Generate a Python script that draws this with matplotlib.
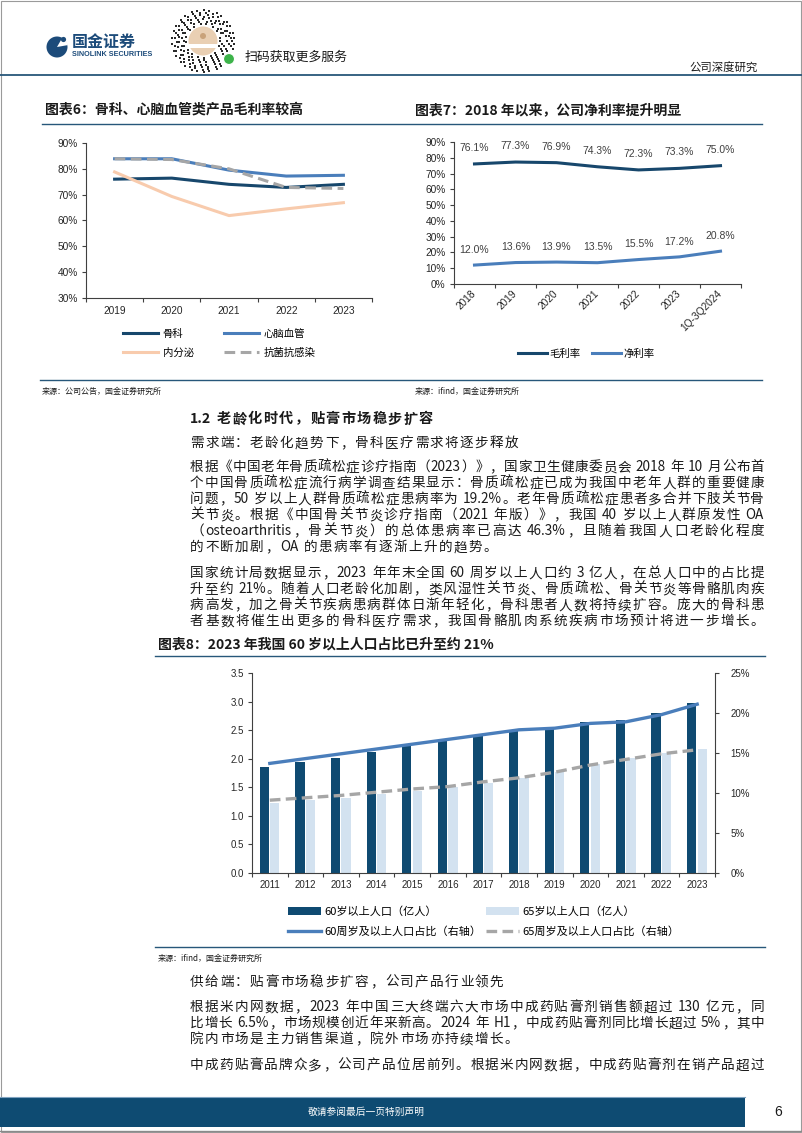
import numpy as np
import matplotlib
matplotlib.use("Agg")
import matplotlib.pyplot as plt
from matplotlib import font_manager
from matplotlib.font_manager import FontProperties
from matplotlib.patches import Rectangle, Circle, Wedge

# ---------------- data ----------------
# 图表6 毛利率 (%)
years6 = ['2019', '2020', '2021', '2022', '2023']
gm_ortho = [76.0, 76.4, 74.0, 72.8, 74.0]      # 骨科
gm_cardio = [83.9, 83.9, 79.5, 77.2, 77.5]     # 心脑血管
gm_endo = [78.8, 69.3, 61.9, 64.5, 66.9]       # 内分泌
gm_anti = [83.9, 83.6, 80.0, 72.8, 72.4]       # 抗菌抗感染

# 图表7 毛利率 / 净利率 (%)
periods7 = ['2018', '2019', '2020', '2021', '2022', '2023', '1Q-3Q2024']
gross_margin = [76.1, 77.3, 76.9, 74.3, 72.3, 73.3, 75.0]
net_margin = [12.0, 13.6, 13.9, 13.5, 15.5, 17.2, 20.8]

# 图表8 人口 (亿人) 与占比 (%)
years8 = ['2011', '2012', '2013', '2014', '2015', '2016', '2017',
          '2018', '2019', '2020', '2021', '2022', '2023']
pop60 = [1.85, 1.94, 2.02, 2.12, 2.22, 2.31, 2.41, 2.49, 2.54, 2.64, 2.67, 2.80, 2.97]
pop65 = [1.23, 1.27, 1.32, 1.38, 1.44, 1.50, 1.58, 1.67, 1.76, 1.91, 2.01, 2.10, 2.17]
share60 = [13.7, 14.3, 14.9, 15.5, 16.1, 16.7, 17.3, 17.9, 18.1, 18.7, 18.9, 19.8, 21.1]
share65 = [9.1, 9.4, 9.7, 10.1, 10.5, 10.8, 11.4, 11.9, 12.6, 13.5, 14.2, 14.9, 15.4]

# body text
heading = '1.2 老龄化时代，贴膏市场稳步扩容'
demand_title = '需求端：老龄化趋势下，骨科医疗需求将逐步释放'
para1 = ['根据《中国老年骨质疏松症诊疗指南（2023）》，国家卫生健康委员会 2018 年 10 月公布首',
         '个中国骨质疏松症流行病学调查结果显示：骨质疏松症已成为我国中老年人群的重要健康',
         '问题，50 岁以上人群骨质疏松症患病率为 19.2%。老年骨质疏松症患者多合并下肢关节骨',
         '关节炎。根据《中国骨关节炎诊疗指南（2021 年版）》，我国 40 岁以上人群原发性 OA',
         '（osteoarthritis，骨关节炎）的总体患病率已高达 46.3%，且随着我国人口老龄化程度',
         '的不断加剧，OA 的患病率有逐渐上升的趋势。']
para2 = ['国家统计局数据显示，2023 年年末全国 60 周岁以上人口约 3 亿人，在总人口中的占比提',
         '升至约 21%。随着人口老龄化加剧，类风湿性关节炎、骨质疏松、骨关节炎等骨骼肌肉疾',
         '病高发，加之骨关节疾病患病群体日渐年轻化，骨科患者人数将持续扩容。庞大的骨科患',
         '者基数将催生出更多的骨科医疗需求，我国骨骼肌肉系统疾病市场预计将进一步增长。']
supply_title = '供给端：贴膏市场稳步扩容，公司产品行业领先'
para3 = ['根据米内网数据，2023 年中国三大终端六大市场中成药贴膏剂销售额超过 130 亿元，同',
         '比增长 6.5%，市场规模创近年来新高。2024 年 H1，中成药贴膏剂同比增长超过 5%，其中',
         '院内市场是主力销售渠道，院外市场亦持续增长。']
para4 = ['中成药贴膏品牌众多，公司产品位居前列。根据米内网数据，中成药贴膏剂在销产品超过']

# ---------------- style ----------------
CJK = 'Noto Sans CJK SC'
plt.rcParams['font.family'] = [CJK, 'DejaVu Sans']
names = {f.name for f in font_manager.fontManager.ttflist}
NUM = 'Liberation Sans'
HAS_NARROW = 'Liberation Sans Narrow' in names
NARROW = 'Liberation Sans Narrow' if HAS_NARROW else NUM

NAVY = '#0F4A71'
DARK_LINE = '#17476C'
BLUE = '#4A7EBB'
PEACH = '#F8CBAD'
GRAY = '#A6A6A6'
LIGHT = '#D3E2F0'
RULE = '#27577A'
TXT = '#1A1A1A'
AXC = '#404040'
TICK = '#262626'

W, H = 802, 1133
fig = plt.figure(figsize=(W / 100, H / 100), dpi=100)

page = fig.add_axes([0, 0, 1, 1])
page.set_xlim(0, W)
page.set_ylim(H, 0)
page.axis('off')


def add_ax(x0, y0, x1, y1):
    return fig.add_axes([x0 / W, 1 - y1 / H, (x1 - x0) / W, (y1 - y0) / H])


def fig_pt(x, y):
    return (x / W, 1 - y / H)


def style_axes(ax, ncat, labels, fp, pad, rot=0):
    ax.set_xlim(-0.5, ncat - 0.5)
    ax.set_xticks(np.arange(ncat + 1) - 0.5)
    ax.set_xticklabels([])
    ax.set_xticks(np.arange(ncat), minor=True)
    if rot:
        ax.set_xticklabels(labels, minor=True, fontproperties=fp, color=TICK,
                           rotation=rot, ha='right', va='center', rotation_mode='anchor')
    else:
        ax.set_xticklabels(labels, minor=True, fontproperties=fp, color=TICK)
    ax.tick_params(axis='x', which='major', direction='out', length=3, width=0.8, color=AXC)
    ax.tick_params(axis='x', which='minor', length=0, pad=pad)
    ax.tick_params(axis='y', direction='out', length=3, width=0.8, color=AXC, pad=3)
    for s in ['top', 'right']:
        ax.spines[s].set_visible(False)
    for s in ['left', 'bottom']:
        ax.spines[s].set_color(AXC)
        ax.spines[s].set_linewidth(0.8)
    ax.set_facecolor('none')


# ---------------- page frame & header ----------------
page.add_patch(Rectangle((0.5, 0.5), W - 1.5, H - 1.5, fill=False, ec='#9A9A9A', lw=0.8))

page.add_patch(Circle((57, 47), 10.5, fc='#1C4B7A', ec='none'))
page.add_patch(Wedge((57, 47), 11, 300, 350, fc='white', ec='none'))
page.add_patch(Circle((63.5, 39.5), 2.6, fc='#1C4B7A', ec='none'))
page.text(72, 42, '国金证券', fontsize=11.5, weight='bold', color='#1C4B7A', va='center')
page.text(72, 55, 'SINOLINK SECURITIES', fontsize=6.3 if HAS_NARROW else 5.2,
          family=NARROW, weight='bold', color='#1C4B7A', va='center')

# mini-program code (decorative)
qx, qy = 203, 41
ring_pts = []
for ri, r in enumerate(np.arange(17, 31, 2.3)):
    nseg = int(2 * np.pi * r / 2.6)
    for k in range(nseg):
        if (ri * 7 + k * 3 + (k // 4) * 5) % 5 < 2:
            a = 2 * np.pi * k / nseg
            ring_pts.append((qx + r * np.cos(a), qy + r * np.sin(a)))
ring_pts = np.array(ring_pts)
page.scatter(ring_pts[:, 0], ring_pts[:, 1], s=2.2, marker='s', c='#2A2A2A', lw=0)
page.add_patch(Circle((qx, qy), 14.5, fc='#E9CFB3', ec='none'))
page.add_patch(Rectangle((qx - 14, qy + 3), 28, 4, fc='white', ec='none'))
page.add_patch(Circle((qx, qy - 5), 3, fc='#C9A27A', ec='none'))
page.add_patch(Circle((229, 59), 5.5, fc='#3DB34A', ec='white', lw=0.8))

page.text(245, 57, '扫码获取更多服务', fontsize=9.3, color=TXT, va='center')
page.text(758, 67, '公司深度研究', fontsize=8.2, color=TXT, va='center', ha='right')
page.plot([0, W], [75, 75], color=RULE, lw=1.3)

# ---------------- chart titles ----------------
title_kw = dict(fontsize=10, weight='bold', style='italic', color=TXT, va='center')
page.text(45, 110, '图表6：骨科、心脑血管类产品毛利率较高', **title_kw)
page.text(415, 110, '图表7：2018 年以来，公司净利率提升明显', **title_kw)
page.plot([42, 762], [124, 124], color=RULE, lw=1.0)

# ---------------- chart 6 ----------------
fp_tick = FontProperties(family=NUM, size=7.3)
ax6 = add_ax(86, 143, 372, 298)
x6 = np.arange(len(years6))
h1, = ax6.plot(x6, gm_ortho, color=DARK_LINE, lw=2.2, label='骨科')
h2, = ax6.plot(x6, gm_cardio, color=BLUE, lw=2.2, label='心脑血管')
h3, = ax6.plot(x6, gm_endo, color=PEACH, lw=2.2, label='内分泌')
h4, = ax6.plot(x6, gm_anti, color=GRAY, lw=2.2, dashes=(3.5, 1.8), label='抗菌抗感染')
ax6.set_ylim(30, 90)
yt6 = np.arange(30, 91, 10)
ax6.set_yticks(yt6)
ax6.set_yticklabels([f'{v}%' for v in yt6], fontproperties=fp_tick, color=TICK)
style_axes(ax6, len(years6), years6, fp_tick, pad=6)
fp_leg = FontProperties(family=CJK, size=7.5)
ax6.legend(handles=[h1, h3, h2, h4], ncol=2, loc='upper left',
           bbox_to_anchor=fig_pt(123, 329), bbox_transform=fig.transFigure,
           frameon=False, prop=fp_leg, handlelength=3.4, handletextpad=0.4,
           columnspacing=2.9, labelspacing=0.85, borderpad=0, borderaxespad=0)

# ---------------- chart 7 ----------------
ax7 = add_ax(454, 142, 741, 284)
x7 = np.arange(len(periods7))
g1, = ax7.plot(x7, gross_margin, color=DARK_LINE, lw=2.2, label='毛利率')
g2, = ax7.plot(x7, net_margin, color=BLUE, lw=2.2, label='净利率')
for xi, v in zip(x7, gross_margin):
    ax7.annotate(f'{v:.1f}%', (xi, v), xytext=(0, 11.5), textcoords='offset points',
                 ha='center', va='center', family=NUM, fontsize=7.5, color='#404040')
for xi, v in zip(x7, net_margin):
    ax7.annotate(f'{v:.1f}%', (xi, v), xytext=(0, 11), textcoords='offset points',
                 ha='center', va='center', family=NUM, fontsize=7.5, color='#404040')
ax7.set_ylim(0, 90)
yt7 = np.arange(0, 91, 10)
ax7.set_yticks(yt7)
ax7.set_yticklabels([f'{v}%' for v in yt7], fontproperties=fp_tick, color=TICK)
style_axes(ax7, len(periods7), periods7, fp_tick, pad=6, rot=45)
ax7.legend(handles=[g1, g2], ncol=2, loc='upper left',
           bbox_to_anchor=fig_pt(518, 349), bbox_transform=fig.transFigure,
           frameon=False, prop=fp_leg, handlelength=2.8, handletextpad=0.2,
           columnspacing=1.1, borderpad=0, borderaxespad=0)

# sources
src_kw = dict(fontsize=5.8, color=TXT, va='center')
page.plot([40, 762], [380, 380], color=RULE, lw=1.0)
page.text(42, 391, '来源：公司公告，国金证券研究所', **src_kw)
page.text(415, 391, '来源：ifind，国金证券研究所', **src_kw)

# ---------------- body text ----------------
renderer = fig.canvas.get_renderer()
BODY_PT = 9.8
fp_body = FontProperties(family=CJK, size=BODY_PT)


def split_tokens(s):
    toks, buf, gap = [], '', False
    for ch in s:
        if ch == ' ':
            if buf:
                toks.append((buf, gap))
                buf, gap = '', False
            gap = True
        elif ord(ch) > 0x2E80:
            if buf:
                toks.append((buf, gap))
                buf, gap = '', False
            toks.append((ch, gap))
            gap = False
        else:
            buf += ch
    if buf:
        toks.append((buf, gap))
    return toks


def draw_line(x0, x1, yc, s, fp, justify=True, color=TXT):
    # place each glyph run so the line fills x0..x1 like the justified report text
    toks = split_tokens(s)
    em = fp.get_size_in_points() * fig.dpi / 72
    widths = [renderer.get_text_width_height_descent(t, fp, ismath=False)[0] for t, _ in toks]
    gaps = [0.3 * em if g else 0 for _, g in toks]
    natural = sum(widths) + sum(gaps)
    if justify and len(toks) > 1:
        extra = (x1 - x0 - natural) / (len(toks) - 1)
    else:
        extra = 0.1 * em
    x = x0
    base = yc + 0.38 * em
    for (t, _), w, g in zip(toks, widths, gaps):
        x += g
        page.text(x, base, t, fontproperties=fp, va='baseline', ha='left', color=color)
        x += w + extra


def draw_para(lines, y0, step, fp, justify_last=False, x0=190, x1=764):
    for i, ln in enumerate(lines):
        last = i == len(lines) - 1
        draw_line(x0, x1, y0 + i * step, ln, fp, justify=(not last) or justify_last)


LINE = 16
fp_head = FontProperties(family=CJK, size=10.2, weight='bold')
draw_line(190, 764, 418, heading, fp_head, justify=False)
draw_line(190, 764, 442, demand_title, fp_body, justify=False)
draw_para(para1, 466, LINE, fp_body)
draw_para(para2, 572, LINE, fp_body, justify_last=True)

# ---------------- chart 8 ----------------
page.text(158, 645, '图表8：2023 年我国 60 岁以上人口占比已升至约 21%', **title_kw)
page.plot([155, 765], [656, 656], color=RULE, lw=1.0)

fp_tick8 = FontProperties(family=NARROW, size=8.5 if HAS_NARROW else 7)
ax8 = add_ax(252, 673, 715, 873)
x8 = np.arange(len(years8))
bw = 0.26
b60 = ax8.bar(x8 - 0.155, pop60, width=bw, color=NAVY, label='60岁以上人口（亿人）')
b65 = ax8.bar(x8 + 0.14, pop65, width=bw, color=LIGHT, label='65岁以上人口（亿人）')
ax8.set_ylim(0, 3.5)
yt8 = np.arange(0, 3.51, 0.5)
ax8.set_yticks(yt8)
ax8.set_yticklabels([f'{v:.1f}' for v in yt8], fontproperties=fp_tick8, color=TICK)
style_axes(ax8, len(years8), years8, fp_tick8, pad=5)

ax8r = ax8.twinx()
l60, = ax8r.plot(x8, share60, color=BLUE, lw=2.4, label='60周岁及以上人口占比（右轴）')
l65, = ax8r.plot(x8, share65, color=GRAY, lw=2.4, dashes=(3.2, 1.6), label='65周岁及以上人口占比（右轴）')
ax8r.set_ylim(0, 25)
yt8r = np.arange(0, 26, 5)
ax8r.set_yticks(yt8r)
ax8r.set_yticklabels([f'{v}%' for v in yt8r], fontproperties=fp_tick8, color=TICK)
ax8r.tick_params(axis='y', direction='out', length=3, width=0.8, color=AXC, pad=8)
for s in ['top', 'left', 'bottom']:
    ax8r.spines[s].set_visible(False)
ax8r.spines['right'].set_color(AXC)
ax8r.spines['right'].set_linewidth(0.8)

fp_leg8 = FontProperties(family=CJK, size=8)
ax8r.legend(handles=[b60, l60, b65, l65], ncol=2, loc='upper left',
            bbox_to_anchor=fig_pt(288, 906), bbox_transform=fig.transFigure,
            frameon=False, prop=fp_leg8, handlelength=3.0, handletextpad=0.3,
            columnspacing=0.4, labelspacing=0.85, borderpad=0, borderaxespad=0)

page.plot([155, 765], [947, 947], color=RULE, lw=1.0)
page.text(158, 958, '来源：ifind，国金证券研究所', **src_kw)

draw_line(190, 764, 981, supply_title, fp_body, justify=False)
draw_para(para3, 1006, LINE, fp_body)
draw_para(para4, 1064, LINE, fp_body, justify_last=True)

# ---------------- footer ----------------
page.add_patch(Rectangle((0, 1097), 745, 30, fc='#0E4B72', ec='none'))
page.plot([0, 745], [1097, 1097], color='#7FA3C0', lw=0.8)
page.text(308, 1112, '敬请参阅最后一页特别声明', fontsize=7, color='white', va='center')
page.text(778, 1112, '6', fontsize=10, color=TXT, va='center', ha='center', family=NUM)
page.plot([0, W], [1130.5, 1130.5], color='#8A8A8A', lw=1.0)

fig.savefig('out.png', dpi=100)
